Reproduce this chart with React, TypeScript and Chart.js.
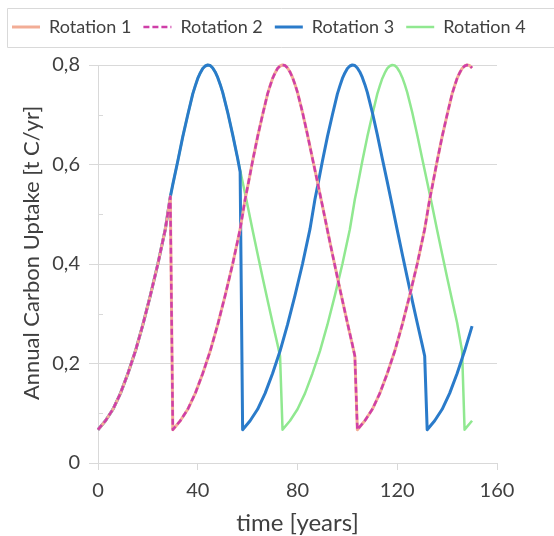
import React, { useEffect, useRef } from 'react';
import { Chart, registerables } from 'chart.js';

Chart.register(...registerables);

// ---- data ----
const legendLabels = ['Rotation 1', 'Rotation 2', 'Rotation 3', 'Rotation 4'];
const xAxisTitle = 'time [years]';
const yAxisTitle = 'Annual Carbon Uptake [t C/yr]';
const xTickValues = [0, 40, 80, 120, 160];
const yTickValues = [0, 0.2, 0.4, 0.6, 0.8];
const yMinorTickValues = [0.1, 0.3, 0.5, 0.7];

// [year, annual uptake]
const rotation1: [number, number][] = [
  [0, 0.067], [3, 0.085], [6, 0.108], [9, 0.14], [12, 0.18], [15, 0.225], [18, 0.278], [21, 0.337], [24, 0.4], [27, 0.47], [29, 0.535],
  [30, 0.067], [33, 0.085], [36, 0.108], [39, 0.14], [42, 0.18], [45, 0.225], [48, 0.278], [51, 0.337], [54, 0.4], [57, 0.47], [59, 0.53], [60, 0.555],
  [62, 0.607], [64, 0.656], [66, 0.7], [68, 0.742], [69, 0.758], [70, 0.773], [71, 0.784], [72, 0.793], [73, 0.798], [74, 0.8], [75, 0.799], [76, 0.794],
  [77, 0.786], [78, 0.775], [79, 0.761], [80, 0.745], [82, 0.705], [84, 0.66], [86, 0.612], [88, 0.565], [90, 0.517], [92, 0.468], [94, 0.42], [96, 0.373],
  [98, 0.327], [100, 0.282], [102, 0.238], [103, 0.215],
  [104, 0.067], [107, 0.085], [110, 0.108], [113, 0.14], [116, 0.18], [119, 0.225], [122, 0.278], [125, 0.337], [128, 0.4], [131, 0.47], [133, 0.53],
  [134, 0.555], [136, 0.607], [138, 0.656], [140, 0.7], [142, 0.742], [143, 0.758], [144, 0.773], [145, 0.784], [146, 0.793], [147, 0.798], [148, 0.8],
  [149, 0.799], [150, 0.794],
];

const rotation2: [number, number][] = [
  [0, 0.067], [3, 0.085], [6, 0.108], [9, 0.14], [12, 0.18], [15, 0.225], [18, 0.278], [21, 0.337], [24, 0.4], [27, 0.47], [29, 0.535],
  [30, 0.067], [33, 0.085], [36, 0.108], [39, 0.14], [42, 0.18], [45, 0.225], [48, 0.278], [51, 0.337], [54, 0.4], [57, 0.47], [59, 0.53], [60, 0.555],
  [62, 0.607], [64, 0.656], [66, 0.7], [68, 0.742], [69, 0.758], [70, 0.773], [71, 0.784], [72, 0.793], [73, 0.798], [74, 0.8], [75, 0.799], [76, 0.794],
  [77, 0.786], [78, 0.775], [79, 0.761], [80, 0.745], [82, 0.705], [84, 0.66], [86, 0.612], [88, 0.565], [90, 0.517], [92, 0.468], [94, 0.42], [96, 0.373],
  [98, 0.327], [100, 0.282], [102, 0.238], [103, 0.215],
  [104, 0.067], [107, 0.085], [110, 0.108], [113, 0.14], [116, 0.18], [119, 0.225], [122, 0.278], [125, 0.337], [128, 0.4], [131, 0.47], [133, 0.53],
  [134, 0.555], [136, 0.607], [138, 0.656], [140, 0.7], [142, 0.742], [143, 0.758], [144, 0.773], [145, 0.784], [146, 0.793], [147, 0.798], [148, 0.8],
  [149, 0.799], [150, 0.794],
];

const rotation3: [number, number][] = [
  [0, 0.067], [3, 0.085], [6, 0.108], [9, 0.14], [12, 0.18], [15, 0.225], [18, 0.278], [21, 0.337], [24, 0.4], [27, 0.47], [29, 0.535],
  [30, 0.56], [32, 0.607], [34, 0.656], [36, 0.7], [38, 0.742], [39, 0.758], [40, 0.773], [41, 0.784], [42, 0.793], [43, 0.798], [44, 0.8], [45, 0.799],
  [46, 0.794], [47, 0.786], [48, 0.775], [49, 0.761], [50, 0.745], [52, 0.705], [54, 0.66], [56, 0.612], [57, 0.585],
  [58, 0.067], [61, 0.085], [64, 0.108], [67, 0.14], [70, 0.18], [73, 0.225], [76, 0.278], [79, 0.337], [82, 0.4], [85, 0.47], [87, 0.53], [88, 0.555],
  [90, 0.607], [92, 0.656], [94, 0.7], [96, 0.742], [97, 0.758], [98, 0.773], [99, 0.784], [100, 0.793], [101, 0.798], [102, 0.8], [103, 0.799],
  [104, 0.794], [105, 0.786], [106, 0.775], [107, 0.761], [108, 0.745], [110, 0.705], [112, 0.66], [114, 0.612], [116, 0.565], [118, 0.517],
  [120, 0.468], [122, 0.42], [124, 0.373], [126, 0.327], [128, 0.282], [130, 0.238], [131, 0.215],
  [132, 0.067], [135, 0.085], [138, 0.108], [141, 0.14], [144, 0.18], [147, 0.225], [150, 0.275],
];

const rotation4: [number, number][] = [
  [0, 0.067], [3, 0.085], [6, 0.108], [9, 0.14], [12, 0.18], [15, 0.225], [18, 0.278], [21, 0.337], [24, 0.4], [27, 0.47], [29, 0.535],
  [30, 0.56], [32, 0.607], [34, 0.656], [36, 0.7], [38, 0.742], [39, 0.758], [40, 0.773], [41, 0.784], [42, 0.793], [43, 0.798], [44, 0.8], [45, 0.799],
  [46, 0.794], [47, 0.786], [48, 0.775], [49, 0.761], [50, 0.745], [52, 0.705], [54, 0.66], [56, 0.612], [58, 0.565], [60, 0.517], [62, 0.468],
  [64, 0.42], [66, 0.373], [68, 0.327], [70, 0.282], [72, 0.238], [73, 0.215],
  [74, 0.067], [77, 0.085], [80, 0.108], [83, 0.14], [86, 0.18], [89, 0.225], [92, 0.278], [95, 0.337], [98, 0.4], [101, 0.47], [103, 0.53], [104, 0.555],
  [106, 0.607], [108, 0.656], [110, 0.7], [112, 0.742], [113, 0.758], [114, 0.773], [115, 0.784], [116, 0.793], [117, 0.798], [118, 0.8], [119, 0.799],
  [120, 0.794], [121, 0.786], [122, 0.775], [123, 0.761], [124, 0.745], [126, 0.705], [128, 0.66], [130, 0.612], [132, 0.565], [134, 0.517],
  [136, 0.468], [138, 0.42], [140, 0.373], [142, 0.327], [144, 0.282], [146, 0.225],
  [147, 0.067], [150, 0.085],
];

// ---- styles ----
const FONT = 'Lato, "Open Sans", sans-serif';
const TEXT = '#404040';
const GRID = '#d9d9d9';

const toPoints = (pairs: [number, number][]) => pairs.map(([x, y]) => ({ x, y }));
const fmt = (v: number) => (Math.abs(v) < 1e-9 ? '0' : v.toFixed(1).replace('.', ','));

const decorPlugin = {
  id: 'decor',
  beforeDatasetsDraw(chart: any) {
    const { ctx, chartArea, scales } = chart;
    ctx.save();
    ctx.strokeStyle = GRID;
    ctx.lineWidth = 1;
    yMinorTickValues.forEach((v) => {
      const y = Math.round(scales.y.getPixelForValue(v)) + 0.5;
      ctx.beginPath();
      ctx.moveTo(chartArea.left, y);
      ctx.lineTo(chartArea.left + 5, y);
      ctx.stroke();
    });
    ctx.restore();
  },
  afterDraw(chart: any) {
    const { ctx, legend, chartArea } = chart;
    ctx.save();
    if (legend) {
      ctx.strokeStyle = GRID;
      ctx.lineWidth = 1;
      const x0 = legend.left + 7.5;
      const y0 = legend.top + 2.5;
      const y1 = legend.bottom + 1.5;
      ctx.beginPath();
      ctx.moveTo(legend.right + 10, y0);
      ctx.lineTo(x0, y0);
      ctx.lineTo(x0, y1);
      ctx.lineTo(legend.right + 10, y1);
      ctx.stroke();
    }
    // y axis title (rotated)
    ctx.fillStyle = TEXT;
    ctx.font = `22px ${FONT}`;
    ctx.textAlign = 'center';
    ctx.textBaseline = 'middle';
    ctx.translate(32, (chartArea.top + chartArea.bottom) / 2 - 11);
    ctx.rotate(-Math.PI / 2);
    ctx.fillText(yAxisTitle, 0, 0);
    ctx.restore();
  },
};

export default function App() {
  const ref = useRef<HTMLCanvasElement>(null);

  useEffect(() => {
    const canvas = ref.current;
    if (!canvas) return;
    const chart = new Chart(canvas, {
      type: 'line',
      data: {
        datasets: [
          {
            label: legendLabels[0],
            data: toPoints(rotation1),
            borderColor: '#f2ad96',
            backgroundColor: '#f2ad96',
            borderWidth: 3,
            order: 1,
          },
          {
            label: legendLabels[1],
            data: toPoints(rotation2),
            borderColor: '#cf3fa8',
            backgroundColor: '#cf3fa8',
            borderWidth: 2.5,
            borderDash: [6, 3],
            order: 0,
          },
          {
            label: legendLabels[2],
            data: toPoints(rotation3),
            borderColor: '#2a7bca',
            backgroundColor: '#2a7bca',
            borderWidth: 3,
            order: 2,
          },
          {
            label: legendLabels[3],
            data: toPoints(rotation4),
            borderColor: '#90e890',
            backgroundColor: '#90e890',
            borderWidth: 2.5,
            order: 3,
          },
        ] as any,
      },
      options: {
        animation: false,
        responsive: false,
        events: [],
        layout: { padding: { top: 6, left: 0, right: 0, bottom: 0 } },
        datasets: { line: { clip: false as any } } as any,
        elements: {
          point: { radius: 0 },
          line: { tension: 0, borderCapStyle: 'butt', borderJoinStyle: 'round' },
        },
        font: { family: FONT },
        plugins: {
          tooltip: { enabled: false },
          title: {
            display: true,
            text: '',
            weight: 500,
            padding: 0,
            font: { size: 10, lineHeight: 1.9 },
          } as any,
          legend: {
            position: 'top',
            align: 'start',
            labels: {
              usePointStyle: true,
              pointStyle: 'line',
              pointStyleWidth: 28,
              padding: 12,
              color: TEXT,
              font: { family: FONT, size: 18 },
              sort: (a: any, b: any) => a.datasetIndex - b.datasetIndex,
              generateLabels: (c: any) => {
                const items = (Chart.defaults.plugins.legend.labels as any).generateLabels(c);
                return items.map((it: any) => {
                  const ds: any = c.data.datasets[it.datasetIndex];
                  return {
                    ...it,
                    pointStyle: 'line',
                    strokeStyle: ds.borderColor,
                    lineWidth: ds.borderWidth,
                    lineDash: ds.borderDash || [],
                    lineCap: 'butt',
                  };
                });
              },
            },
          },
        },
        scales: {
          x: {
            type: 'linear',
            min: 0,
            max: 160,
            afterBuildTicks: (s: any) => {
              s.ticks = xTickValues.map((v) => ({ value: v }));
            },
            afterFit: (s: any) => {
              s.height = 73;
            },
            ticks: {
              color: TEXT,
              font: { family: FONT, size: 20 },
              padding: 9,
              maxRotation: 0,
              callback: (v: any) => String(v),
            },
            grid: { drawOnChartArea: false, color: GRID, tickLength: 7 },
            border: { color: GRID },
            title: {
              display: true,
              text: xAxisTitle,
              color: TEXT,
              font: { family: FONT, size: 24 },
              padding: { top: 0, bottom: -2 },
            },
          },
          y: {
            type: 'linear',
            position: 'left',
            min: 0,
            max: 0.8,
            afterBuildTicks: (s: any) => {
              s.ticks = yTickValues.map((v) => ({ value: v }));
            },
            afterFit: (s: any) => {
              s.width = 98;
            },
            ticks: {
              color: TEXT,
              font: { family: FONT, size: 20 },
              padding: 9,
              callback: (v: any) => fmt(Number(v)),
            },
            grid: { color: GRID, tickLength: 9 },
            border: { color: GRID },
            title: { display: false },
          },
          y2: {
            type: 'linear',
            position: 'right',
            display: true,
            ticks: { display: false },
            grid: { display: false },
            border: { display: false },
            afterFit: (s: any) => {
              s.width = 57;
            },
          },
        },
      } as any,
      plugins: [decorPlugin],
    });
    return () => chart.destroy();
  }, []);

  return (
    <div style={{ position: 'fixed', left: 0, top: 0, width: 554, height: 536, background: '#ffffff' }}>
      <canvas ref={ref} width={554} height={536} style={{ display: 'block' }} />
    </div>
  );
}
